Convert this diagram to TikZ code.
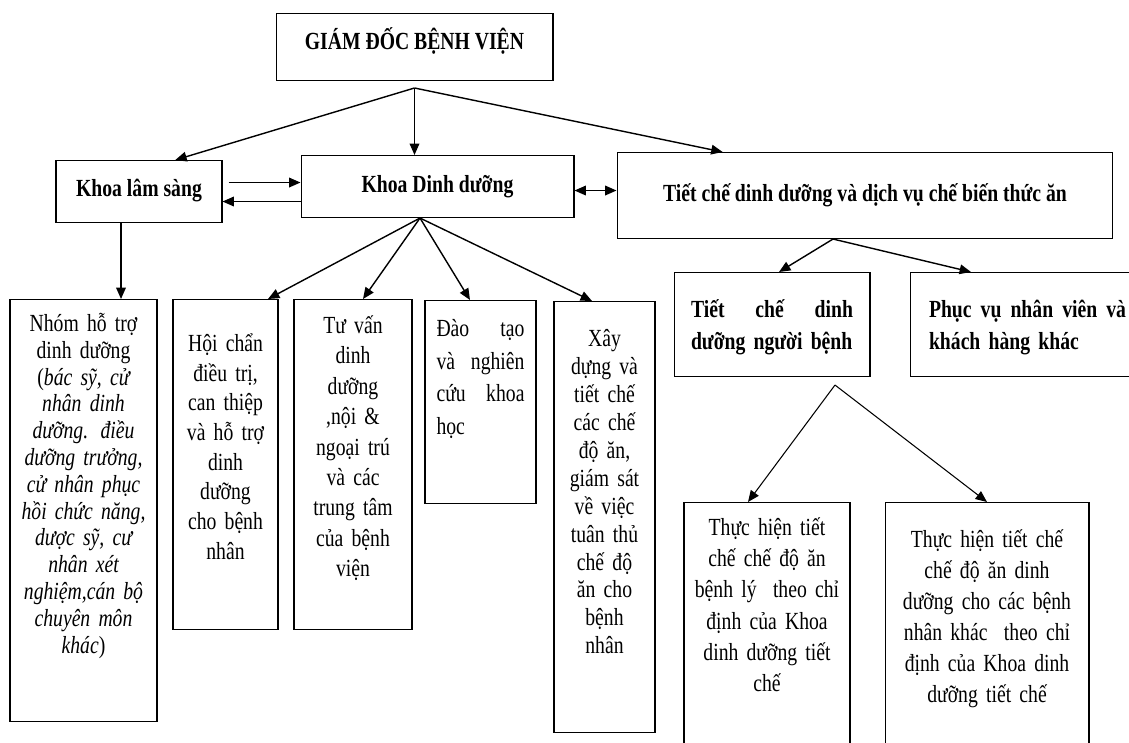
\documentclass[tikz,border=0pt]{standalone}
\usepackage{fontspec}
\setmainfont{Liberation Serif}[FakeStretch=0.8]
\usetikzlibrary{arrows.meta}

\tikzset{
  box/.style={draw, line width=0.6pt, anchor=north, inner ysep=0pt, align=center},
  txt/.style={font=\fontsize{14pt}{#1}\selectfont},
  btxt/.style={font=\fontsize{14pt}{#1}\selectfont\bfseries}
}

\begin{document}
\begin{tikzpicture}[x=0.02cm,y=-0.02cm,line width=0.8pt,>={Triangle[length=6.5pt,width=5.5pt]}]
  \useasboundingbox (0,0) rectangle (1129,743);
  \clip (0,0) rectangle (1129,743);

  % cap tren
  \node (gd) [box, btxt=17pt, minimum width=5.54cm, text height=0.71cm, text depth=0.63cm] at (414.5,13) {GIÁM ĐỐC BỆNH VIỆN};
  \node (ls) [box, btxt=17pt, minimum width=3.32cm, text height=0.72cm, text depth=0.52cm] at (139,160) {Khoa lâm sàng};
  \node (dd) [box, btxt=17pt, minimum width=5.46cm, text height=0.74cm, text depth=0.5cm] at (437.5,155) {Khoa Dinh dưỡng};
  \node (ct) [box, btxt=17pt, minimum width=9.92cm, text height=0.98cm, text depth=0.74cm] at (865,152) {Tiết chế dinh dưỡng và dịch vụ chế biến thức ăn};

  % cac cot ben duoi
  \node (nhom) [box, txt=15.25pt, inner xsep=0.08cm, text width=2.78cm, text height=0.64cm, text depth=7.8cm] at (83.5,299)
    {Nhóm hỗ trợ\\ dinh dưỡng\\ ({\itshape bác sỹ, cử\\ nhân dinh\\ dưỡng. điều\\ dưỡng trưởng,\\ cử nhân phục\\ hồi chức năng,\\ dược sỹ, cư\\ nhân xét\\ nghiệm,cán bộ\\ chuyên môn\\ khác})};
  \node (hc) [box, txt=16.9pt, inner xsep=0.1cm, text width=1.9cm, text height=1.04cm, text depth=5.56cm] at (225.5,299)
    {Hội chẩn\\ điều trị,\\ can thiệp\\ và hỗ trợ\\ dinh\\ dưỡng\\ cho bệnh\\ nhân};
  \node (tv) [box, txt=17.3pt, inner xsep=0.1cm, text width=2.16cm, text height=0.68cm, text depth=5.92cm] at (353,299)
    {Tư vấn\\ dinh\\ dưỡng\\ ,nội \&\\ ngoại trú\\ và các\\ trung tâm\\ của bệnh\\ viện};
  \node (dt) [box, txt=18.6pt, align=left, inner xsep=0.23cm, text width=1.76cm, text height=0.72cm, text depth=3.34cm] at (480.5,300)
    {Đào\hfill tạo\\ và\hfill nghiên\\ cứu\hfill khoa\\ học};
  \node (xd) [box, txt=15.9pt, inner xsep=0.1cm, text width=1.82cm, text height=0.9cm, text depth=7.72cm] at (604.5,301)
    {Xây\\ dựng và\\ tiết chế\\ các chế\\ độ ăn,\\ giám sát\\ về việc\\ tuân thủ\\ chế độ\\ ăn cho\\ bệnh\\ nhân};

  % nhanh tiet che
  \node (tcnb) [box, btxt=18.2pt, align=left, inner xsep=0.34cm, text width=3.24cm, text height=0.9cm, text depth=1.18cm] at (772,272)
    {Tiết\hfill chế\hfill dinh\\ dưỡng người bệnh};
  \node (pv) [box, btxt=18.2pt, align=left, inner xsep=0.38cm, text width=3.94cm, text height=0.9cm, text depth=1.18cm] at (1027.5,272)
    {Phục\hfill vụ\hfill nhân\hfill viên\hfill và\\ khách hàng khác};
  \node (th1) [box, txt=17.75pt, inner xsep=0.1cm, text width=3.12cm, text height=0.66cm, text depth=4.5cm] at (767,502)
    {Thực hiện tiết\\ chế chế độ ăn\\ bệnh lý \ theo chỉ\\ định của Khoa\\ dinh dưỡng tiết\\ chế};
  \node (th2) [box, txt=17.6pt, inner xsep=0.2cm, text width=3.68cm, text height=0.9cm, text depth=4.26cm] at (987,502)
    {Thực hiện tiết chế\\ chế độ ăn dinh\\ dưỡng cho các bệnh\\ nhân khác \ theo chỉ\\ định của Khoa dinh\\ dưỡng tiết chế};

  \coordinate (gdfan) at (414.5,88);
  \coordinate (ddfan) at ([xshift=-0.35cm]dd.south);
  \coordinate (ctfan) at ([xshift=-0.64cm]ct.south);
  \coordinate (tcfan) at ([xshift=1.26cm,yshift=-0.16cm]tcnb.south);

  \path[->]
    (gdfan) edge (ls.41)
    (gdfan) edge (gdfan |- dd.north)
    (gdfan) edge (ct.163.5)
    ([yshift=0.18cm]ls.east) edge[shorten <=0.12cm] ([yshift=0.18cm]ls.east -| dd.west)
    ([yshift=-0.3cm]dd.west) edge ([yshift=-0.3cm]dd.west -| ls.east)
    ([yshift=-0.08cm]dd.east) edge[<->] ([yshift=-0.08cm]dd.east -| ct.west)
    ([xshift=-0.36cm]ls.south) edge ([xshift=-0.36cm]ls.south |- nhom.north)
    (ddfan) edge ([xshift=0.85cm]hc.north)
    (ddfan) edge ([xshift=0.2cm]tv.north)
    (ddfan) edge ([xshift=-0.21cm]dt.north)
    (ddfan) edge ([xshift=-0.25cm]xd.north)
    (ctfan) edge ([xshift=0.14cm]tcnb.north)
    (ctfan) edge ([xshift=-1.13cm]pv.north)
    (tcfan) edge[line width=0.6pt] ([xshift=-0.38cm]th1.north)
    (tcfan) edge[line width=0.6pt] (th2.north);
\end{tikzpicture}
\end{document}
